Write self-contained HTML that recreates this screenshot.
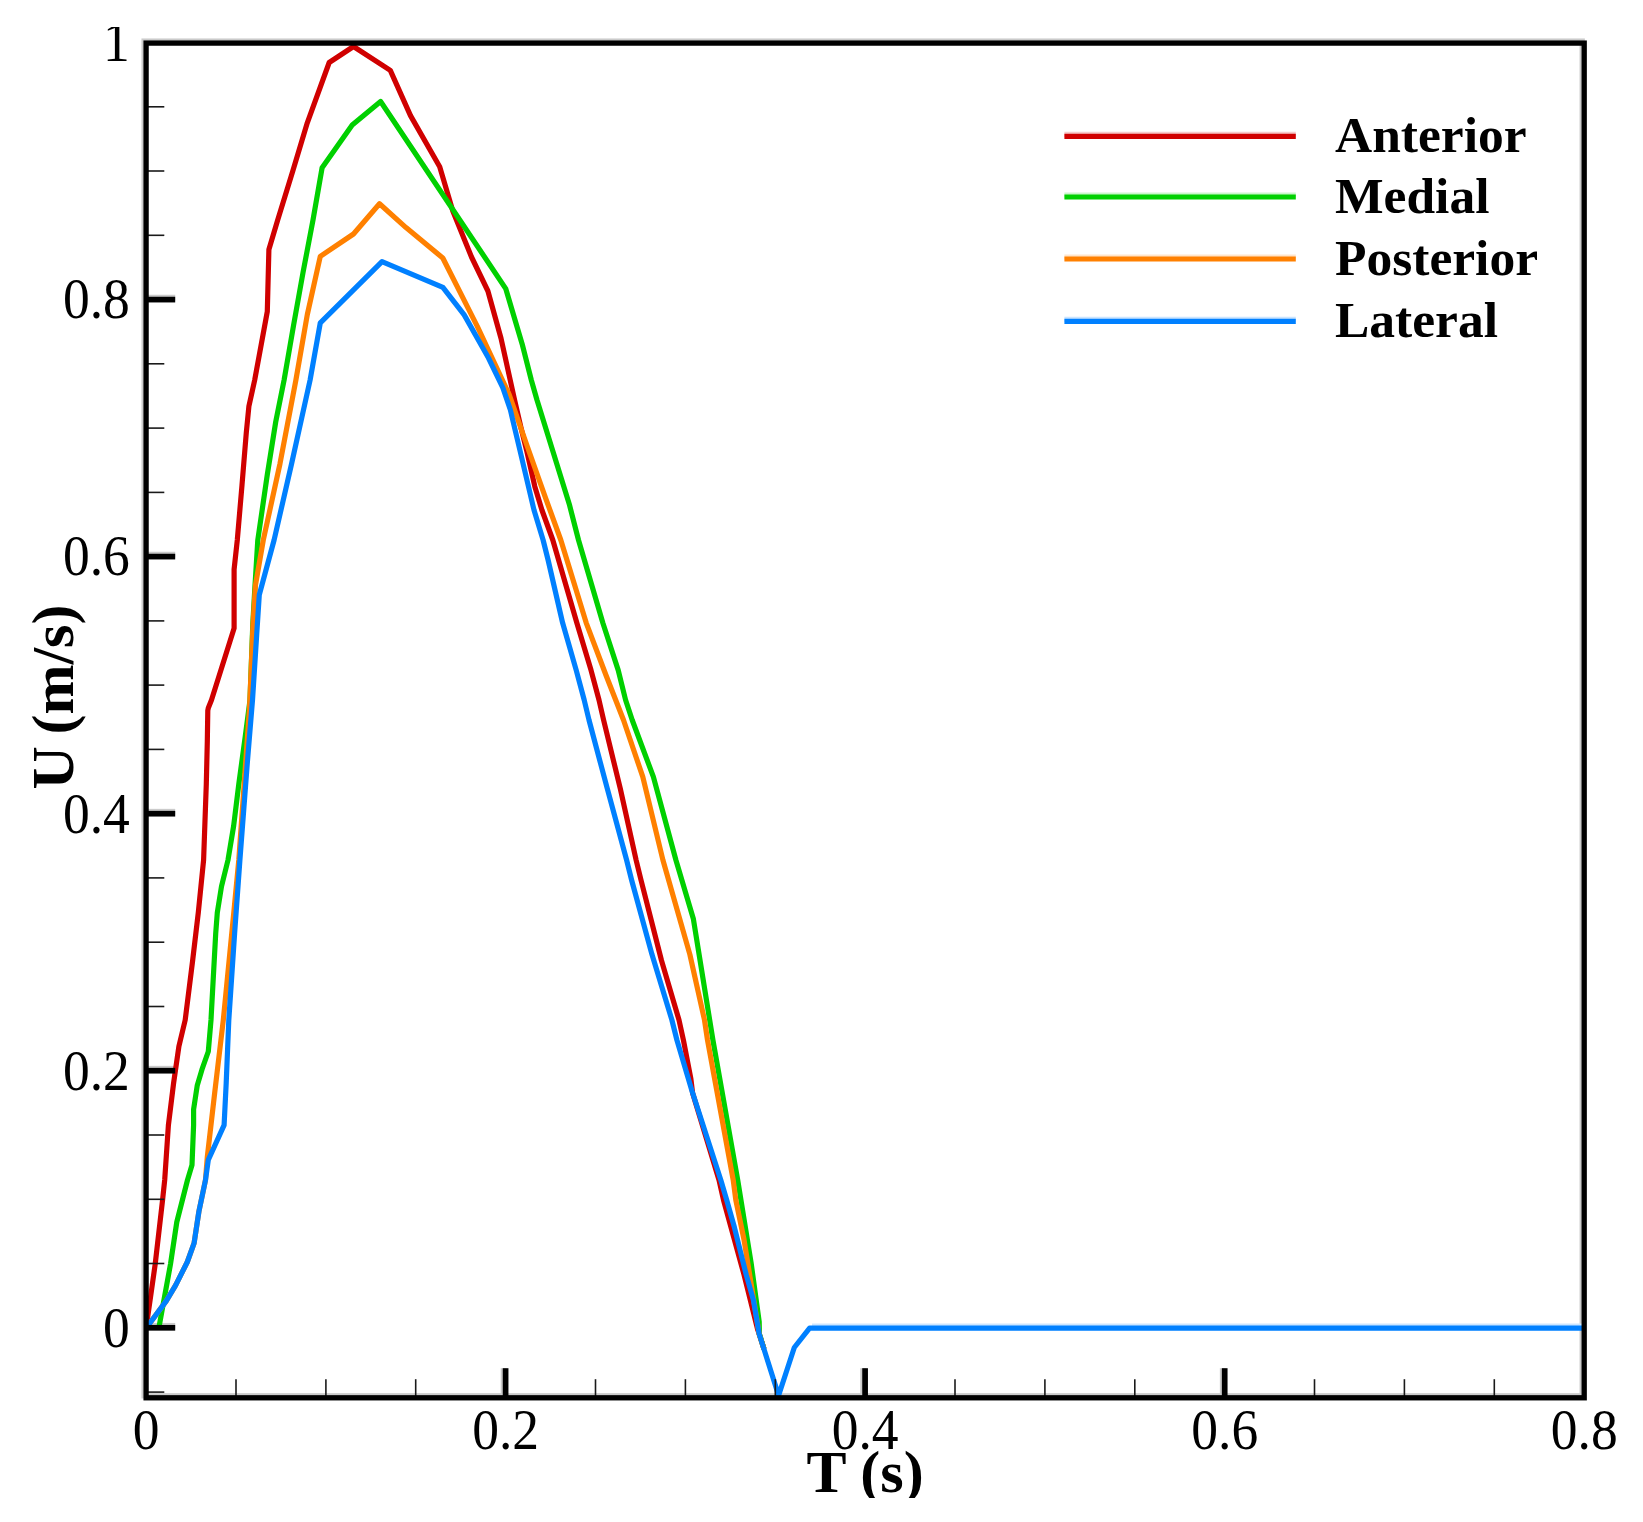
<!DOCTYPE html>
<html lang="en"><head><meta charset="utf-8"><title>U vs T</title>
<style>html,body{margin:0;padding:0;background:#fff}svg{display:block}text{font-family:"Liberation Serif","Times New Roman",serif;fill:#000}.tk{font-size:53.5px}.ti{font-size:60px;font-weight:bold}.lg{font-size:51.5px;font-weight:bold}</style></head><body>
<svg width="1643" height="1522" viewBox="0 0 1643 1522">
<rect width="1643" height="1522" fill="#fff"/>
<defs><clipPath id="cp"><rect x="146.1" y="43.1" width="1438.1" height="1354.7"/></clipPath><clipPath id="c1"><rect x="90" y="27" width="50" height="50"/></clipPath><clipPath id="c2"><rect x="780" y="1440" width="180" height="58"/></clipPath></defs>
<g opacity="0.2">
<g transform="translate(-2,-2)"><rect x="146.1" y="43.1" width="1438.1" height="1354.7" fill="none" stroke="#000" stroke-width="5.3"/></g>
<g transform="translate(0,-2)" stroke="#000" stroke-width="5.7"><line x1="146.1" y1="1327.8" x2="175.2" y2="1327.8"/><line x1="146.1" y1="1070.7" x2="175.2" y2="1070.7"/><line x1="146.1" y1="813.7" x2="175.2" y2="813.7"/><line x1="146.1" y1="556.6" x2="175.2" y2="556.6"/><line x1="146.1" y1="299.6" x2="175.2" y2="299.6"/></g>
<g transform="translate(-2,0)" stroke="#000" stroke-width="5.7"><line x1="505.6" y1="1397.8" x2="505.6" y2="1368.2"/><line x1="865.1" y1="1397.8" x2="865.1" y2="1368.2"/><line x1="1224.7" y1="1397.8" x2="1224.7" y2="1368.2"/></g>
<g transform="translate(0,-2)" stroke-width="5.2"><line x1="1064.4" y1="136.4" x2="1295.8" y2="136.4" stroke="#d00000"/><line x1="1064.4" y1="197.0" x2="1295.8" y2="197.0" stroke="#00d000"/><line x1="1064.4" y1="259.0" x2="1295.8" y2="259.0" stroke="#ff8000"/><line x1="1064.4" y1="321.3" x2="1295.8" y2="321.3" stroke="#0080ff"/></g>
<line x1="812" y1="1326.2" x2="1582" y2="1326.2" stroke="#0080ff" stroke-width="5.2"/>
</g>
<g clip-path="url(#cp)" fill="none" stroke-width="5.2" stroke-linejoin="round">
<polyline stroke="#d00000" points="146.1,1328.2 155.2,1264.1 162.6,1199.7 164.7,1180.0 168.4,1125.1 173.6,1083.1 178.9,1046.3 185.2,1020.0 192.6,960.9 198.3,912.6 203.6,860.0 206.3,784.1 207.3,742.0 207.8,710.5 208.3,708.0 211.5,700.0 234.1,628.3 234.1,569.4 237.3,540.0 242.0,485.1 246.3,432.6 248.9,406.3 254.7,380.0 267.3,311.5 268.9,249.4 277.7,220.0 293.1,170.1 307.3,122.8 329.2,62.5 353.5,46.5 390.3,70.4 410.5,115.6 439.7,166.8 452.8,211.0 471.5,257.0 487.9,291.0 501.0,338.3 510.2,380.0 514.6,400.0 520.9,427.3 526.8,451.0 534.8,486.4 541.9,510.0 552.8,540.0 576.8,622.8 591.0,670.1 599.0,700.0 603.6,720.0 620.3,788.7 636.1,860.0 641.0,880.0 661.5,960.5 679.0,1020.0 683.4,1040.0 690.9,1079.1 692.6,1093.0 719.0,1180.0 723.5,1200.0 744.0,1274.6 757.8,1330.0 759.2,1334.0 764.0,1349.0"/>
<polyline stroke="#00d000" points="158.8,1328.2 170.5,1264.1 176.8,1222.0 187.5,1180.0 192.0,1165.1 193.6,1125.1 193.6,1109.4 197.3,1085.2 202.0,1069.4 208.3,1051.5 211.0,1020.0 215.7,933.6 217.3,912.6 221.5,886.3 228.0,860.0 233.6,826.2 238.8,784.1 245.2,736.8 250.0,700.0 252.8,624.0 254.8,589.0 257.8,540.0 267.3,474.6 275.7,422.0 284.1,380.0 293.6,325.1 303.0,272.6 313.0,220.0 322.1,167.7 352.2,125.1 380.6,101.5 505.7,288.6 522.2,344.2 531.3,380.0 537.0,400.0 552.8,451.0 569.3,504.2 578.5,540.0 602.8,622.8 618.2,670.1 625.6,700.0 632.2,720.0 653.4,776.9 675.9,860.0 693.4,919.1 712.9,1040.0 737.7,1180.0 751.1,1262.8 759.2,1321.9 759.4,1334.0 764.0,1349.0"/>
<polyline stroke="#ff8000" points="146.1,1328.2 166.3,1300.9 175.7,1285.1 187.3,1262.0 194.1,1243.1 198.9,1211.5 205.5,1180.0 207.3,1157.0 214.6,1093.6 223.3,1020.0 233.8,912.6 238.8,860.0 249.4,710.0 250.2,692.0 253.0,624.0 255.5,585.0 263.3,540.0 279.9,464.1 295.9,380.0 307.3,314.6 320.3,256.3 353.5,234.0 379.5,203.8 406.0,227.6 442.8,258.0 477.3,326.4 509.0,394.2 526.8,445.0 545.7,498.3 560.8,540.0 586.2,622.8 606.3,676.0 623.5,720.0 642.8,776.9 662.9,860.0 689.9,954.6 704.5,1020.0 707.5,1040.0 733.2,1180.0 735.8,1200.0 743.9,1239.1 759.2,1334.0 764.0,1349.0"/>
<polyline stroke="#0080ff" points="146.1,1328.2 166.3,1300.9 175.7,1285.1 187.3,1262.0 194.1,1243.1 198.9,1211.5 205.5,1180.0 208.3,1159.8 224.1,1125.1 226.2,1083.1 228.8,1020.0 234.6,933.6 239.9,860.0 247.3,763.1 252.5,700.0 256.7,634.6 259.3,594.7 274.1,540.0 291.5,464.1 310.1,380.0 320.3,322.8 382.0,261.6 442.9,287.3 464.2,314.9 488.5,358.0 502.9,387.8 510.4,410.0 520.1,451.0 534.0,510.0 543.1,540.0 548.1,560.0 562.6,622.8 576.2,670.1 584.2,700.0 589.0,720.0 607.3,788.7 626.6,860.0 631.6,880.0 652.0,954.6 671.9,1020.0 676.9,1040.0 692.0,1091.0 720.8,1180.0 726.7,1200.0 734.4,1227.3 746.2,1274.6 753.4,1300.0 759.2,1334.0 778.6,1395.5 794.3,1347.5 809.6,1328.2 1584.2,1328.2"/>
</g>
<g stroke-width="5.2"><line x1="1064.4" y1="136.4" x2="1295.8" y2="136.4" stroke="#d00000"/><line x1="1064.4" y1="197.0" x2="1295.8" y2="197.0" stroke="#00d000"/><line x1="1064.4" y1="259.0" x2="1295.8" y2="259.0" stroke="#ff8000"/><line x1="1064.4" y1="321.3" x2="1295.8" y2="321.3" stroke="#0080ff"/></g>
<g stroke="#000" stroke-width="5.7"><line x1="146.1" y1="1327.8" x2="175.2" y2="1327.8"/><line x1="146.1" y1="1070.7" x2="175.2" y2="1070.7"/><line x1="146.1" y1="813.7" x2="175.2" y2="813.7"/><line x1="146.1" y1="556.6" x2="175.2" y2="556.6"/><line x1="146.1" y1="299.6" x2="175.2" y2="299.6"/><line x1="505.6" y1="1397.8" x2="505.6" y2="1368.2"/><line x1="865.1" y1="1397.8" x2="865.1" y2="1368.2"/><line x1="1224.7" y1="1397.8" x2="1224.7" y2="1368.2"/></g>
<g stroke="#1a1a1a" stroke-width="1.6"><line x1="146.1" y1="1392.1" x2="164.3" y2="1392.1"/><line x1="146.1" y1="1263.5" x2="164.3" y2="1263.5"/><line x1="146.1" y1="1199.3" x2="164.3" y2="1199.3"/><line x1="146.1" y1="1135.0" x2="164.3" y2="1135.0"/><line x1="146.1" y1="1006.5" x2="164.3" y2="1006.5"/><line x1="146.1" y1="942.2" x2="164.3" y2="942.2"/><line x1="146.1" y1="877.9" x2="164.3" y2="877.9"/><line x1="146.1" y1="749.4" x2="164.3" y2="749.4"/><line x1="146.1" y1="685.1" x2="164.3" y2="685.1"/><line x1="146.1" y1="620.9" x2="164.3" y2="620.9"/><line x1="146.1" y1="492.4" x2="164.3" y2="492.4"/><line x1="146.1" y1="428.1" x2="164.3" y2="428.1"/><line x1="146.1" y1="363.8" x2="164.3" y2="363.8"/><line x1="146.1" y1="235.3" x2="164.3" y2="235.3"/><line x1="146.1" y1="171.0" x2="164.3" y2="171.0"/><line x1="146.1" y1="106.8" x2="164.3" y2="106.8"/><line x1="236.0" y1="1397.8" x2="236.0" y2="1379.2"/><line x1="325.9" y1="1397.8" x2="325.9" y2="1379.2"/><line x1="415.7" y1="1397.8" x2="415.7" y2="1379.2"/><line x1="595.5" y1="1397.8" x2="595.5" y2="1379.2"/><line x1="685.4" y1="1397.8" x2="685.4" y2="1379.2"/><line x1="775.3" y1="1397.8" x2="775.3" y2="1379.2"/><line x1="955.0" y1="1397.8" x2="955.0" y2="1379.2"/><line x1="1044.9" y1="1397.8" x2="1044.9" y2="1379.2"/><line x1="1134.8" y1="1397.8" x2="1134.8" y2="1379.2"/><line x1="1314.5" y1="1397.8" x2="1314.5" y2="1379.2"/><line x1="1404.4" y1="1397.8" x2="1404.4" y2="1379.2"/><line x1="1494.3" y1="1397.8" x2="1494.3" y2="1379.2"/></g>
<rect x="146.1" y="43.1" width="1438.1" height="1354.7" fill="none" stroke="#000" stroke-width="5.3"/>
<text class="tk" transform="translate(129.8,1346.6) scale(1,1.05)" text-anchor="end">0</text>
<text class="tk" transform="translate(129.8,1089.5) scale(1,1.05)" text-anchor="end">0.2</text>
<text class="tk" transform="translate(129.8,832.5) scale(1,1.05)" text-anchor="end">0.4</text>
<text class="tk" transform="translate(129.8,575.4) scale(1,1.05)" text-anchor="end">0.6</text>
<text class="tk" transform="translate(129.8,318.4) scale(1,1.05)" text-anchor="end">0.8</text>
<g clip-path="url(#c1)"><text class="tk" transform="translate(129.8,61.3) scale(1,1.05)" text-anchor="end">1</text></g>
<text class="tk" transform="translate(146.1,1448.6) scale(1,1.05)" text-anchor="middle">0</text>
<text class="tk" transform="translate(505.6,1448.6) scale(1,1.05)" text-anchor="middle">0.2</text>
<text class="tk" transform="translate(865.1,1448.6) scale(1,1.05)" text-anchor="middle">0.4</text>
<text class="tk" transform="translate(1224.7,1448.6) scale(1,1.05)" text-anchor="middle">0.6</text>
<text class="tk" transform="translate(1584.2,1448.6) scale(1,1.05)" text-anchor="middle">0.8</text>
<g clip-path="url(#c2)"><text class="ti" x="865" y="1492.4" text-anchor="middle">T (s)</text></g>
<text class="ti" transform="translate(73,697) rotate(-90)" text-anchor="middle" style="word-spacing:-3.5px">U (m/s)</text>
<text class="lg" x="1335" y="151.6">Anterior</text>
<text class="lg" x="1335" y="213.3">Medial</text>
<text class="lg" x="1335" y="274.9">Posterior</text>
<text class="lg" x="1335" y="337.0">Lateral</text>
</svg></body></html>
